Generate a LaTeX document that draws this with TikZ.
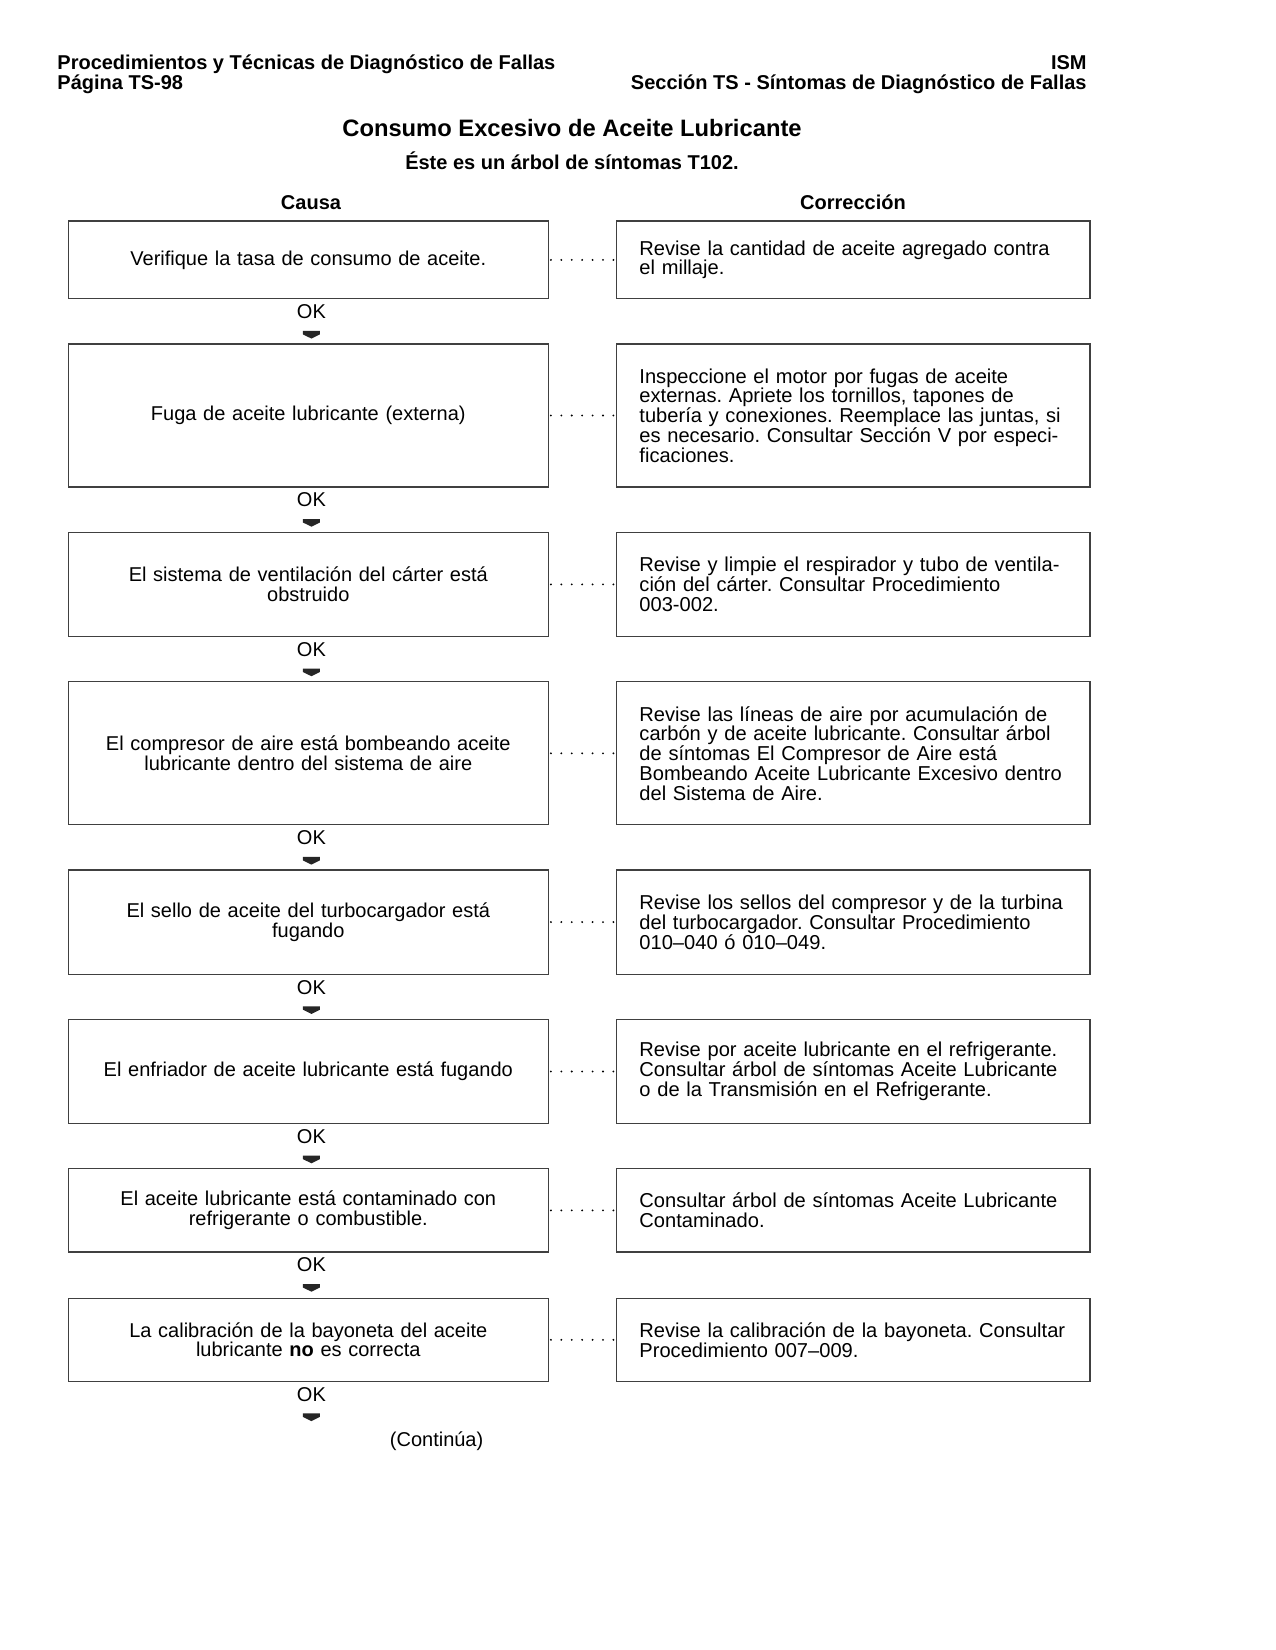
\documentclass[tikz,border=0pt]{standalone}
\usepackage{fontspec}
\setmainfont{Liberation Sans}
\usepackage{tikz}
\usetikzlibrary{positioning}

\begin{document}
\frenchspacing
\begin{tikzpicture}[x=0.48pt,y=-0.48pt,
  txt/.style={font=\fontsize{9.6}{9.5}\selectfont},
  hdr/.style={font=\fontsize{9.6}{9.6}\selectfont\bfseries,inner sep=0},
  causa/.style={txt,draw=black!75,line width=0.6pt,text width=214.3pt,align=center,inner xsep=8pt,inner ysep=0pt},
  corr/.style={font=\fontsize{9.65}{9.5}\selectfont,draw=black!75,line width=0.6pt,text width=205.3pt,align=left,inner xsep=11pt,inner ysep=0pt},
  ok/.style={txt,inner sep=0},
  okarrow/.style={fill=black!85},
  dots/.style={line width=1pt,line cap=round,dash pattern=on 0pt off 5pt,shorten <=1pt,shorten >=1pt}]
        \useasboundingbox (0,0) rectangle (1275,1650);

        % headings
        \node[hdr,anchor=base west] (h1) at (57,70) {Procedimientos y Técnicas de Diagnóstico de Fallas};
        \node[hdr,anchor=base west] (h2) at (57,90) {Página TS-98};
        \node[hdr,anchor=base east] (h3) at (1087,70) {ISM};
        \node[hdr,anchor=base east] (h4) at (1087,90) {Sección TS - Síntomas de Diagnóstico de Fallas};
        \node[hdr,font=\fontsize{11.4}{12}\selectfont\bfseries,anchor=base] (title) at (572,136.5) {Consumo Excesivo de Aceite Lubricante};
        \node[hdr,anchor=base] (sub) at (572,170) {Éste es un árbol de síntomas T102.};
        \node[hdr,anchor=base] (causa) at (311,210) {Causa};
        \node[hdr,anchor=base] (corr) at (853,210) {Corrección};

        % causa
        \node[causa,minimum height=37.4pt] (c1) at (308.3,259.9) {Verifique la tasa de consumo de aceite.};
        \node[causa,minimum height=68.6pt] (c2) at (308.3,415.5) {Fuga de aceite lubricante (externa)};
        \node[causa,minimum height=50pt] (c3) at (308.3,584.4) {El sistema de ventilación del cárter está\\obstruido};
        \node[causa,minimum height=68.7pt] (c4) at (308.3,753.3) {El compresor de aire está bombeando aceite\\lubricante dentro del sistema de aire};
        \node[causa,minimum height=50pt] (c5) at (308.3,922.1) {El sello de aceite del turbocargador está\\fugando};
        \node[causa,minimum height=50pt] (c6) at (308.3,1071.5) {El enfriador de aceite lubricante está fugando};
        \node[causa,minimum height=39.9pt] (c7) at (308.3,1210.4) {El aceite lubricante está contaminado con\\refrigerante o combustible.};
        \node[causa,minimum height=39.9pt] (c8) at (308.3,1339.8) {La calibración de la bayoneta del aceite\\lubricante \textbf{no} es correcta};

        % correccion
        \node[corr,minimum height=37.4pt,right=32.2pt of c1] (r1) {Revise la cantidad de aceite agregado contra\\el millaje.};
        \node[corr,minimum height=68.6pt,right=32.2pt of c2] (r2) {Inspeccione el motor por fugas de aceite\\externas. Apriete los tornillos, tapones de\\tubería y conexiones. Reemplace las juntas, si\\es necesario. Consultar Sección V por especi-\\ficaciones.};
        \node[corr,minimum height=50pt,right=32.2pt of c3] (r3) {Revise y limpie el respirador y tubo de ventila-\\ción del cárter. Consultar Procedimiento\\003-002.};
        \node[corr,minimum height=68.7pt,right=32.2pt of c4] (r4) {Revise las líneas de aire por acumulación de\\carbón y de aceite lubricante. Consultar árbol\\de síntomas El Compresor de Aire está\\Bombeando Aceite Lubricante Excesivo dentro\\del Sistema de Aire.};
        \node[corr,minimum height=50pt,right=32.2pt of c5] (r5) {Revise los sellos del compresor y de la turbina\\del turbocargador. Consultar Procedimiento\\010–040 ó 010–049.};
        \node[corr,minimum height=50pt,right=32.2pt of c6] (r6) {Revise por aceite lubricante en el refrigerante.\\Consultar árbol de síntomas Aceite Lubricante\\o de la Transmisión en el Refrigerante.};
        \node[corr,minimum height=39.9pt,right=32.2pt of c7] (r7) {Consultar árbol de síntomas Aceite Lubricante\\Contaminado.};
        \node[corr,minimum height=39.9pt,right=32.2pt of c8] (r8) {Revise la calibración de la bayoneta. Consultar\\Procedimiento 007–009.};

        % c>r, OK and arrows
        \foreach \i in {1,...,8} {
          \draw[dots] (c\i) -- (r\i);
          \node[ok,below=2.4pt of c\i,xshift=1.5pt] (ok\i) {OK};
          \path (ok\i.south) ++(0,11.5) coordinate (a\i);
          \fill[okarrow] (a\i) ++(-8.5,0) -- ++(17,0) -- ++(0,3.4) -- ++(-8.5,4.2) -- ++(-8.5,-4.2) -- cycle;
        }

        \node[txt] (cont) at (436.6,1441) {(Continúa)};
\end{tikzpicture}
\end{document}
